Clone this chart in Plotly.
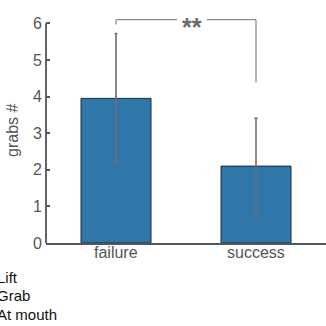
import plotly.graph_objects as go

categories = ["failure", "success"]
means = [3.95, 2.1]
errors = [1.77, 1.31]
y_ticks = [0, 1, 2, 3, 4, 5, 6]
legend_labels = ["Lift", "Grab", "At mouth"]
sig_label = "**"
sig_top = 6.1
sig_left_end = 5.97
sig_right_end = 4.39

FONT = "Liberation Sans, Arial, sans-serif"
AXC = "#555555"

fig = go.Figure()
fig.add_trace(go.Bar(
    x=[0, 1], y=means, width=0.5,
    marker=dict(color="#2e77a8", line=dict(color="#1c2a36", width=1)),
    error_y=dict(type="data", array=errors, color="#6f6f6f", thickness=1.6, width=1.5),
))

# y axis line from 0 to 6
fig.add_shape(type="line", xref="paper", yref="y", x0=0, x1=0, y0=0, y1=6,
              line=dict(color=AXC, width=1.8))

# significance bracket
br = dict(color="#8a8a8a", width=1.3)
fig.add_shape(type="line", xref="x", yref="y", x0=0, x1=0, y0=sig_left_end, y1=sig_top, line=br)
fig.add_shape(type="line", xref="x", yref="y", x0=0, x1=1, y0=sig_top, y1=sig_top, line=br)
fig.add_shape(type="line", xref="x", yref="y", x0=1, x1=1, y0=sig_right_end, y1=sig_top, line=br)
fig.add_annotation(x=0.54, y=sig_top, xref="x", yref="y", text="<b>" + sig_label + "</b>",
                   showarrow=False, bgcolor="rgba(0,0,0,0)",
                   font=dict(size=25, color="#6a6a6a", family=FONT), yshift=-7)
# white gap behind stars
fig.add_shape(type="rect", xref="x", yref="y", x0=0.435, x1=0.65, y0=sig_top - 0.1, y1=sig_top + 0.1,
              fillcolor="white", line=dict(width=0), layer="above")

# y title
fig.add_annotation(x=-0.118, y=0.498, xref="paper", yref="paper", text="grabs #",
                   xanchor="center", yanchor="middle",
                   textangle=-90, showarrow=False, font=dict(size=16, color=AXC, family=FONT))

# x category labels
for i, c in enumerate(categories):
    fig.add_annotation(x=i, y=-0.044, xref="x", yref="paper", text=c,
                       xanchor="center", yanchor="middle", showarrow=False,
                       font=dict(size=16, color=AXC, family=FONT))

# legend-like texts
for lab, yy in zip(legend_labels, [-0.154, -0.233, -0.313]):
    fig.add_annotation(x=-0.182, y=yy, xref="paper", yref="paper", text=lab,
                       xanchor="left", yanchor="middle", showarrow=False,
                       font=dict(size=15, color="#111111", family=FONT))

fig.update_layout(
    width=326, height=326,
    margin=dict(l=46, r=0, t=16, b=83),
    plot_bgcolor="white", paper_bgcolor="white",
    showlegend=False,
    font=dict(family=FONT, size=16, color=AXC),
    bargap=0.5,
)
fig.update_xaxes(range=[-0.5, 1.5], showline=True, linecolor=AXC, linewidth=1.8,
                 ticks="", showgrid=False, zeroline=False, showticklabels=False)
fig.update_yaxes(range=[0, 6.2], showline=False, showgrid=False, zeroline=False,
                 tickvals=y_ticks, ticks="inside", ticklen=4, tickcolor=AXC, tickwidth=1.5,
                 ticklabelstandoff=3,
                 tickfont=dict(size=16, color=AXC, family=FONT))

fig.write_html("out.html")
